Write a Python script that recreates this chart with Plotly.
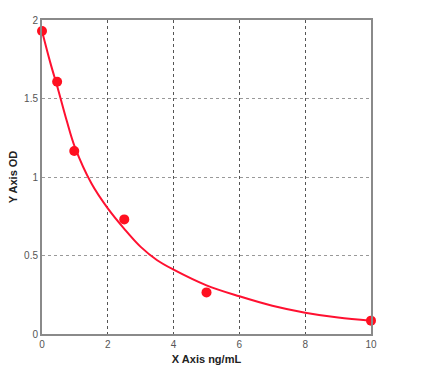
import plotly.graph_objects as go

# Standard points
x_points = [0, 0.46, 0.98, 2.5, 5.0, 10.0]
y_points = [1.93, 1.607, 1.166, 0.73, 0.265, 0.085]

# Fitted curve
x_curve = [0, 0.25, 0.5, 0.75, 1.0, 1.5, 2.0, 2.5, 3.0, 3.5, 4.0, 5.0, 6.0, 7.0, 8.0, 9.0, 10.0]
y_curve = [1.93, 1.73, 1.55, 1.36, 1.19, 0.96, 0.80, 0.67, 0.555, 0.47, 0.41, 0.31, 0.24, 0.18, 0.136, 0.105, 0.085]

x_ticks = [0, 2, 4, 6, 8, 10]
y_ticks = [0, 0.5, 1, 1.5, 2]
y_tick_text = ["0", "0.5", "1", "1.5", "2"]

fig = go.Figure()
fig.add_trace(go.Scatter(x=x_curve, y=y_curve, mode="lines",
                         line=dict(color="#ff1030", width=2, shape="spline", smoothing=1.0),
                         hoverinfo="skip", showlegend=False))
fig.add_trace(go.Scatter(x=x_points, y=y_points, mode="markers",
                         marker=dict(color="#ff1020", size=10),
                         showlegend=False, cliponaxis=False))

font_tick = dict(family="Liberation Sans, Arial", size=10, color="#555555")
font_title = dict(family="Liberation Sans, Arial", size=11, color="#222222")

fig.update_xaxes(range=[0, 10], tickvals=x_ticks, ticktext=[str(v) for v in x_ticks],
                 showline=True, linecolor="#8a8a8a", linewidth=2, mirror=True,
                 showgrid=True, gridcolor="#555555", griddash="dot", gridwidth=1,
                 zeroline=False, ticks="", tickfont=font_tick,
                 title=dict(text="<b>X Axis ng/mL</b>", font=font_title, standoff=6))
fig.update_yaxes(range=[0, 2], tickvals=y_ticks, ticktext=y_tick_text,
                 showline=True, linecolor="#8a8a8a", linewidth=2, mirror=True,
                 showgrid=True, gridcolor="#999999", griddash="dot", gridwidth=1,
                 zeroline=False, ticks="", tickfont=font_tick,
                 title=dict(text="<b>Y Axis OD</b>", font=font_title, standoff=4))

fig.update_layout(width=433, height=384, margin=dict(l=38, r=62, t=20, b=50),
                  plot_bgcolor="white", paper_bgcolor="white")

fig.write_html("out.html")
